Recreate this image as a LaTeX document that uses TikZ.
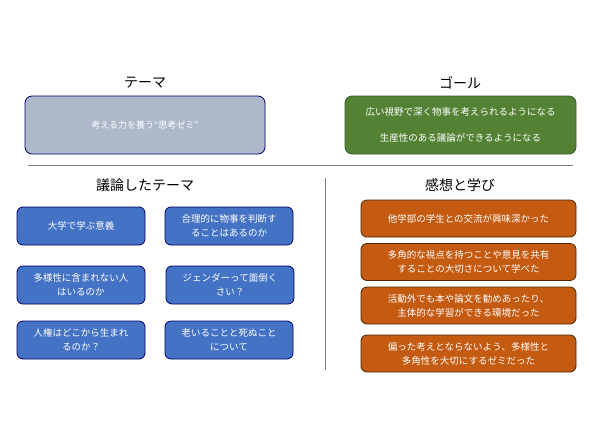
\documentclass[tikz,border=0pt]{standalone}
\usepackage{fontspec}
\setmainfont{Noto Sans CJK JP}
\begin{document}
\begin{tikzpicture}[x=1pt,y=-1pt,
  hdr/.style={font=\fontsize{14}{16}\selectfont},
  bbox/.style={draw=blue!40!black, line width=0.8pt, fill=boxblue, rounded corners=6pt, text=white, align=center, minimum width=128pt, minimum height=38pt, font=\fontsize{9.5}{14}\selectfont, inner sep=1pt},
  obox/.style={draw=orange!30!black, line width=0.8pt, fill=boxorange, rounded corners=6pt, text=white, align=center, minimum width=215pt, minimum height=37pt, font=\fontsize{9.5}{14}\selectfont, inner sep=1pt}]
\definecolor{boxblue}{HTML}{4472C4}
\definecolor{boxorange}{HTML}{C55A11}
\definecolor{themegray}{HTML}{ADB9CA}
\definecolor{goalgreen}{HTML}{548235}
\useasboundingbox (0,0) rectangle (600,424);
\fill[white] (0,0) rectangle (600,424);
\node[hdr] (h1) at (145,83) {テーマ};
\node[hdr] (h2) at (460,83) {ゴール};
\node[draw=blue!40!black, line width=0.8pt, fill=themegray, rounded corners=7pt, minimum width=240pt, minimum height=58pt, text=white, font=\fontsize{9}{12}\selectfont] (theme) at (145,125) {考える力を養う“思考ゼミ”};
\node[draw=goalgreen!70!black, line width=0.8pt, fill=goalgreen, rounded corners=7pt, minimum width=231pt, minimum height=58pt, text=white, align=center, font=\fontsize{9.5}{26}\selectfont] (goal) at (460.5,125) {広い視野で深く物事を考えられるようになる\\生産性のある議論ができるようになる};
\coordinate (l1) at (28,165); \coordinate (l2) at (573,165);
\draw[gray, line width=0.8pt] (l1) -- (l2);
\coordinate (v1) at (325,178); \coordinate (v2) at (325,370);
\draw[gray, line width=0.6pt] (v1) -- (v2);
\node[hdr] (h3) at (145,185) {議論したテーマ};
\node[hdr] (h4) at (460,185) {感想と学び};
\node[bbox] (b1) at (81,226) {大学で学ぶ意義};
\node[bbox] (b2) at (229,226) {合理的に物事を判断す\\ることはあるのか};
\node[bbox] (b3) at (81,285) {多様性に含まれない人\\はいるのか};
\node[bbox] (b4) at (230,285) {ジェンダーって面倒く\\さい？};
\node[bbox] (b5) at (81,340) {人権はどこから生まれ\\るのか？};
\node[bbox] (b6) at (229,340) {老いることと死ぬこと\\について};
\node[obox] (o1) at (468.5,218.5) {他学部の学生との交流が興味深かった};
\node[obox] (o2) at (468.5,262) {多角的な視点を持つことや意見を共有\\することの大切さについて学べた};
\node[obox] (o3) at (468.5,305.5) {活動外でも本や論文を勧めあったり、\\主体的な学習ができる環境だった};
\node[obox] (o4) at (468.5,353.5) {偏った考えとならないよう、多様性と\\多角性を大切にするゼミだった};
\end{tikzpicture}
\end{document}
